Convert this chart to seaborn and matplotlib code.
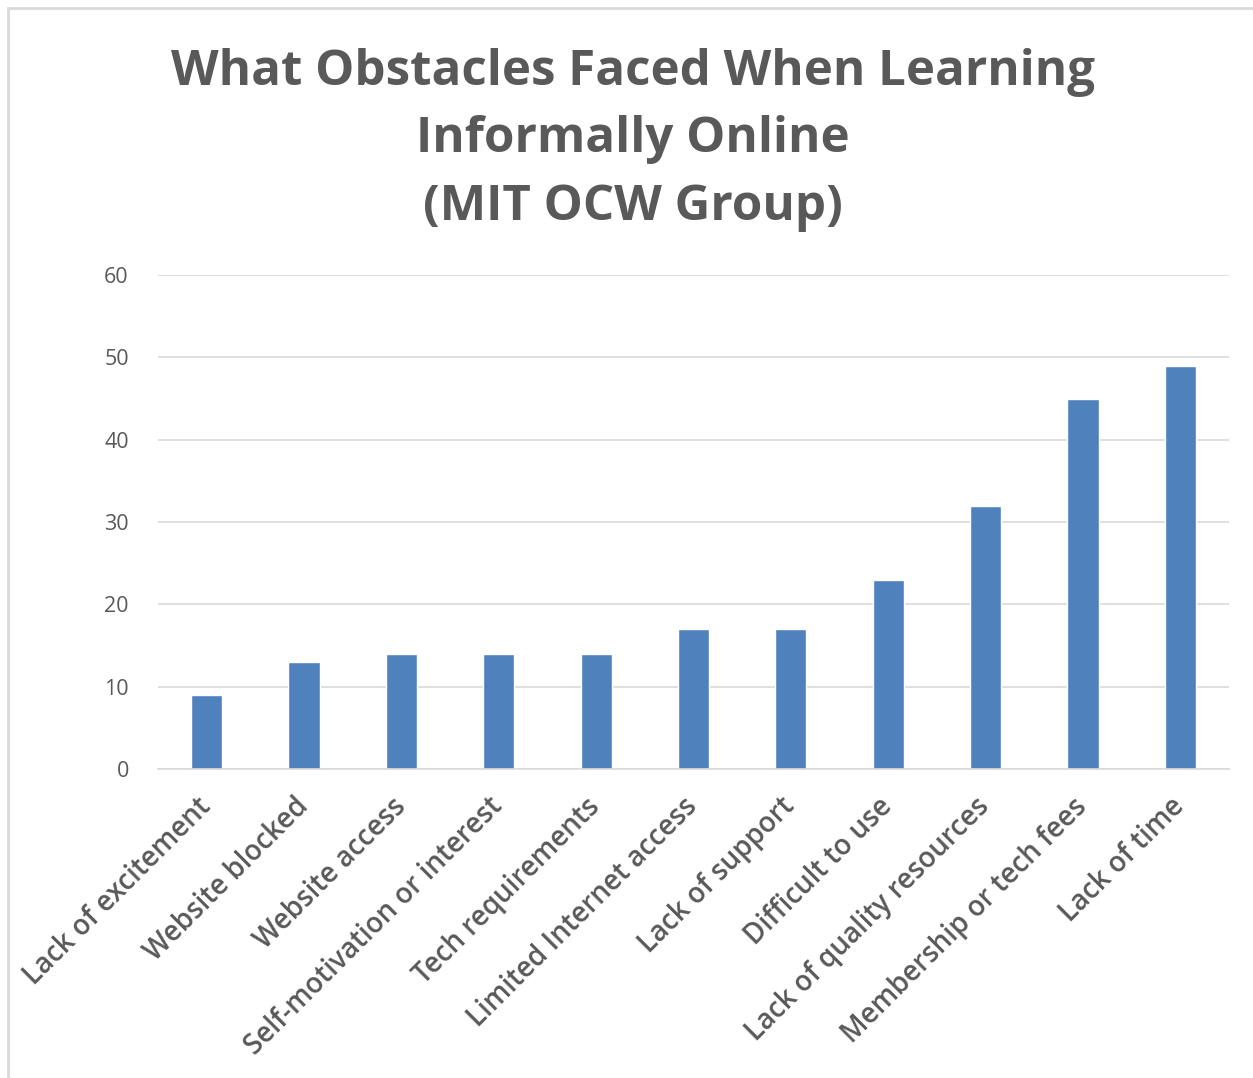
import matplotlib
matplotlib.use("Agg")
import matplotlib.pyplot as plt
import seaborn as sns
import pandas as pd
from matplotlib.patches import Rectangle

# Veriler
obstacles = ["Lack of excitement", "Website blocked", "Website access",
             "Self-motivation or interest", "Tech requirements",
             "Limited Internet access", "Lack of support", "Difficult to use",
             "Lack of quality resources", "Membership or tech fees", "Lack of time"]
counts = [9, 13, 14, 14, 14, 17, 17, 23, 32, 45, 49]
y_ticks = [0, 10, 20, 30, 40, 50, 60]

df = pd.DataFrame({"Obstacle": obstacles, "Count": counts})

sns.set_theme(style="white")
plt.rcParams["font.family"] = ["Open Sans", "DejaVu Sans"]

gray = "#595959"
fig = plt.figure(figsize=(12.53, 10.78), dpi=100)
ax = fig.add_axes([158 / 1253, 1 - 769 / 1078, (1229 - 158) / 1253, (769 - 275) / 1078])

sns.barplot(data=df, x="Obstacle", y="Count", color="#4F81BD", saturation=1,
            width=0.32, ax=ax)

ax.set_ylim(0, 60)
ax.set_xlim(-0.5, len(obstacles) - 0.5)
ax.set_yticks(y_ticks)
ax.yaxis.grid(True, color="#D9D9D9", linewidth=1.2)
ax.set_axisbelow(True)
for s in ["top", "right", "left"]:
    ax.spines[s].set_visible(False)
ax.spines["bottom"].set_color("#D9D9D9")
ax.spines["bottom"].set_linewidth(1.2)
ax.tick_params(axis="y", length=0, pad=21, labelsize=15.5, labelcolor=gray)
ax.tick_params(axis="x", length=0, pad=24, labelsize=20, labelcolor=gray)
plt.setp(ax.get_xticklabels(), rotation=45, ha="right", va="center",
         rotation_mode="anchor", fontweight="semibold")
ax.set_xlabel("")
ax.set_ylabel("")

fig.text(0.505, 1 - 140 / 1078,
         "What Obstacles Faced When Learning\nInformally Online\n(MIT OCW Group)",
         ha="center", va="center", fontsize=35.5, fontweight="bold", color=gray,
         linespacing=1.5)

# Çerçeve
fig.patches.append(Rectangle((8 / 1253, -0.1), 1.2, 1 - 8 / 1078 + 0.1,
                             transform=fig.transFigure, fill=False,
                             edgecolor="#D9D9D9", linewidth=2))

fig.savefig("out.png", dpi=100)
